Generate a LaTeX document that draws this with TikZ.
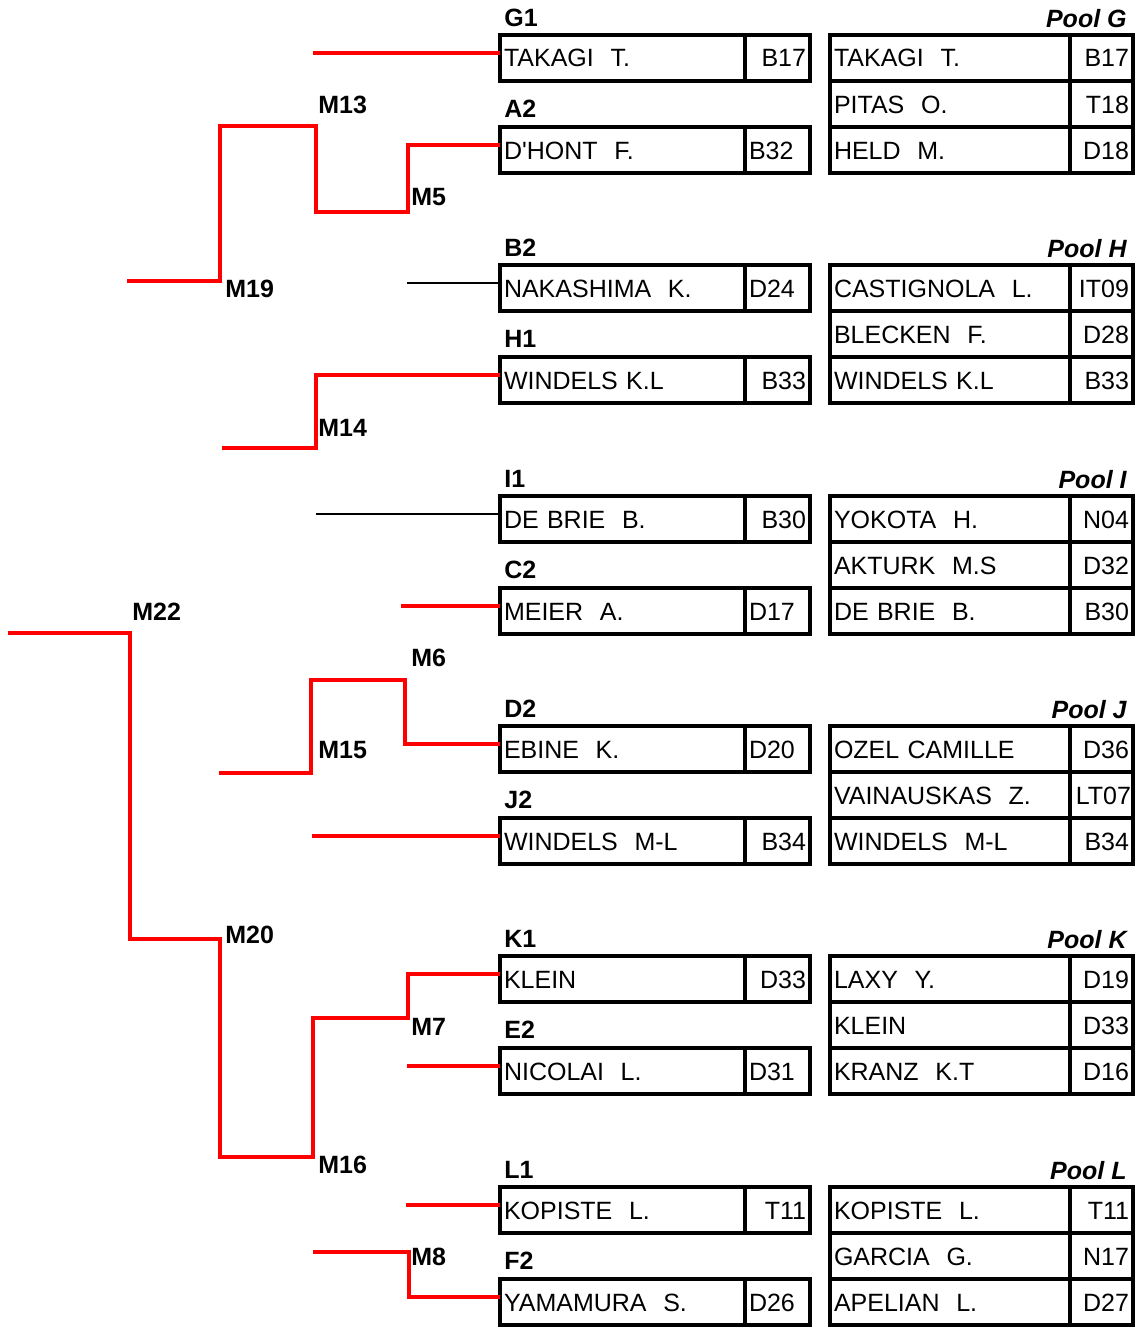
\documentclass[tikz,border=0pt]{standalone}
\usepackage{fontspec}
\setmainfont{Liberation Sans}[Ligatures=TeXOff]
\usepackage{tikz,xcolor}
\usetikzlibrary{calc}

\tikzset{
  cell/.style={draw, line width=2pt, outer sep=0pt, inner xsep=2pt, inner ysep=0pt,
    minimum height=23pt, text height=9pt, text depth=0pt, anchor=north west,
    font=\fontsize{12.5pt}{14pt}\selectfont},
  namecell/.style={cell, text width=118.5pt, align=left},
  codecell/.style={cell, text width=28.5pt, align=right},
  poolname/.style={cell, text width=116pt, align=left},
  poolcode/.style={cell, text width=27.5pt, align=right},
  seed/.style={anchor=west, inner sep=0pt, text depth=0pt,
    font=\fontsize{12.5pt}{14pt}\selectfont\bfseries},
  pooltitle/.style={anchor=east, inner sep=0pt, text depth=0pt,
    font=\fontsize{12.5pt}{14pt}\selectfont\bfseries\itshape},
  match/.style={anchor=west, inner sep=0pt, text depth=0pt,
    font=\fontsize{12.5pt}{14pt}\selectfont\bfseries},
  win/.style={red, line width=2.4pt},
  bye/.style={black, line width=1pt}
}

\begin{document}
\begin{tikzpicture}[x=0.5pt,y=-0.5pt]
  \useasboundingbox (0,0) rectangle (1136,1327);

  % Pool G
  \begin{scope}[shift={(0,35)}]
    \node[seed] (lg1) at (504,-17) {G1};
    \node[pooltitle] (tg) at (1127,-17) {Pool G};
    \node[namecell] (g1) at (500,0) {TAKAGI~~T.};
    \node[codecell] (g1c) at (g1.north east) {B17};
    \node[seed] (la2) at (504,74) {A2};
    \node[namecell] (a2) at (500,92) {D'HONT~~F.};
    \node[codecell,align=left] (a2c) at (a2.north east) {B32};
    \node[poolname] (pg1) at (830,0) {TAKAGI~~T.};
    \node[poolcode] (pg1c) at (pg1.north east) {B17};
    \node[poolname] (pg2) at (pg1.south west) {PITAS~~O.};
    \node[poolcode] (pg2c) at (pg2.north east) {T18};
    \node[poolname] (pg3) at (pg2.south west) {HELD~~M.};
    \node[poolcode] (pg3c) at (pg3.north east) {D18};
  \end{scope}

  % Pool H
  \begin{scope}[shift={(0,265)}]
    \node[seed] (lb2) at (504,-17) {B2};
    \node[pooltitle] (th) at (1127,-17) {Pool H};
    \node[namecell] (b2) at (500,0) {NAKASHIMA~~K.};
    \node[codecell,align=left] (b2c) at (b2.north east) {D24};
    \node[seed] (lh1) at (504,74) {H1};
    \node[namecell] (h1) at (500,92) {WINDELS K.L};
    \node[codecell] (h1c) at (h1.north east) {B33};
    \node[poolname] (ph1) at (830,0) {CASTIGNOLA~~L.};
    \node[poolcode] (ph1c) at (ph1.north east) {IT09};
    \node[poolname] (ph2) at (ph1.south west) {BLECKEN~~F.};
    \node[poolcode] (ph2c) at (ph2.north east) {D28};
    \node[poolname] (ph3) at (ph2.south west) {WINDELS K.L};
    \node[poolcode] (ph3c) at (ph3.north east) {B33};
  \end{scope}

  % Pool I
  \begin{scope}[shift={(0,496)}]
    \node[seed] (li1) at (504,-17) {I1};
    \node[pooltitle] (ti) at (1127,-17) {Pool I};
    \node[namecell] (i1) at (500,0) {DE BRIE~~B.};
    \node[codecell] (i1c) at (i1.north east) {B30};
    \node[seed] (lc2) at (504,74) {C2};
    \node[namecell] (c2) at (500,92) {MEIER~~A.};
    \node[codecell,align=left] (c2c) at (c2.north east) {D17};
    \node[poolname] (pi1) at (830,0) {YOKOTA~~H.};
    \node[poolcode] (pi1c) at (pi1.north east) {N04};
    \node[poolname] (pi2) at (pi1.south west) {AKTURK~~M.S};
    \node[poolcode] (pi2c) at (pi2.north east) {D32};
    \node[poolname] (pi3) at (pi2.south west) {DE BRIE~~B.};
    \node[poolcode] (pi3c) at (pi3.north east) {B30};
  \end{scope}

  % Pool J
  \begin{scope}[shift={(0,726)}]
    \node[seed] (ld2) at (504,-17) {D2};
    \node[pooltitle] (tj) at (1127,-17) {Pool J};
    \node[namecell] (d2) at (500,0) {EBINE~~K.};
    \node[codecell,align=left] (d2c) at (d2.north east) {D20};
    \node[seed] (lj2) at (504,74) {J2};
    \node[namecell] (j2) at (500,92) {WINDELS~~M-L};
    \node[codecell] (j2c) at (j2.north east) {B34};
    \node[poolname] (pj1) at (830,0) {OZEL CAMILLE};
    \node[poolcode] (pj1c) at (pj1.north east) {D36};
    \node[poolname] (pj2) at (pj1.south west) {VAINAUSKAS~~Z.};
    \node[poolcode,inner xsep=1pt,text width=29.5pt] (pj2c) at (pj2.north east) {LT07};
    \node[poolname] (pj3) at (pj2.south west) {WINDELS~~M-L};
    \node[poolcode] (pj3c) at (pj3.north east) {B34};
  \end{scope}

  % Pool K
  \begin{scope}[shift={(0,956)}]
    \node[seed] (lk1) at (504,-17) {K1};
    \node[pooltitle] (tk) at (1127,-17) {Pool K};
    \node[namecell] (k1) at (500,0) {KLEIN};
    \node[codecell] (k1c) at (k1.north east) {D33};
    \node[seed] (le2) at (504,74) {E2};
    \node[namecell] (e2) at (500,92) {NICOLAI~~L.};
    \node[codecell,align=left] (e2c) at (e2.north east) {D31};
    \node[poolname] (pk1) at (830,0) {LAXY~~Y.};
    \node[poolcode] (pk1c) at (pk1.north east) {D19};
    \node[poolname] (pk2) at (pk1.south west) {KLEIN};
    \node[poolcode] (pk2c) at (pk2.north east) {D33};
    \node[poolname] (pk3) at (pk2.south west) {KRANZ~~K.T};
    \node[poolcode] (pk3c) at (pk3.north east) {D16};
  \end{scope}

  % Pool L
  \begin{scope}[shift={(0,1187)}]
    \node[seed] (ll1) at (504,-17) {L1};
    \node[pooltitle] (tl) at (1127,-17) {Pool L};
    \node[namecell] (l1) at (500,0) {KOPISTE~~L.};
    \node[codecell] (l1c) at (l1.north east) {T11};
    \node[seed] (lf2) at (504,74) {F2};
    \node[namecell] (f2) at (500,92) {YAMAMURA~~S.};
    \node[codecell,align=left] (f2c) at (f2.north east) {D26};
    \node[poolname] (pl1) at (830,0) {KOPISTE~~L.};
    \node[poolcode] (pl1c) at (pl1.north east) {T11};
    \node[poolname] (pl2) at (pl1.south west) {GARCIA~~G.};
    \node[poolcode] (pl2c) at (pl2.north east) {N17};
    \node[poolname] (pl3) at (pl2.south west) {APELIAN~~L.};
    \node[poolcode] (pl3c) at (pl3.north east) {D27};
  \end{scope}

  % Bracket corners and loose ends
  \coordinate (m5) at (408,212);
  \coordinate (m13) at (316,126);
  \coordinate (m19) at (220,281);
  \coordinate (m14) at (316,448);
  \coordinate (m6) at (405,680);
  \coordinate (m15) at (311,773);
  \coordinate (m7) at (408,1018);
  \coordinate (m16) at (313,1157);
  \coordinate (m20) at (220,939);
  \coordinate (m22) at (130,633);
  \coordinate (m8) at (409,1252);
  \coordinate (g1end) at (313,53);
  \coordinate (m19end) at (127,281);
  \coordinate (b2end) at (407,283);
  \coordinate (m14end) at (222,448);
  \coordinate (i1end) at (316,514);
  \coordinate (c2end) at (401,606);
  \coordinate (m15end) at (219,773);
  \coordinate (j2end) at (312,836);
  \coordinate (m22end) at (8,633);
  \coordinate (e2end) at (407,1066);
  \coordinate (l1end) at (406,1205);
  \coordinate (m8end) at (313,1252);

  % Bracket lines
  \draw[win] ([yshift=2.5pt]g1.west) -- (g1end);
  \draw[win] ([yshift=2.5pt]a2.west) -| (m5) -| (m13) -| (m19) -- (m19end);
  \draw[bye] ([yshift=2.5pt]b2.west) -- (b2end);
  \draw[win] ([yshift=2.5pt]h1.west) -| (m14) -- (m14end);
  \draw[bye] ([yshift=2.5pt]i1.west) -- (i1end);
  \draw[win] ([yshift=2.5pt]c2.west) -- (c2end);
  \draw[win] ([yshift=2.5pt]d2.west) -| (m6) -| (m15) -- (m15end);
  \draw[win] ([yshift=2.5pt]j2.west) -- (j2end);
  \draw[win] ([yshift=2.5pt]k1.west) -| (m7) -| (m16) -| (m20) -| (m22) -- (m22end);
  \draw[win] ([yshift=2.5pt]e2.west) -- (e2end);
  \draw[win] ([yshift=2.5pt]l1.west) -- (l1end);
  \draw[win] ([yshift=2.5pt]f2.west) -| (m8) -- (m8end);

  % Match numbers
  \node[match] (lm13) at (318,105) {M13};
  \node[match] (lm5) at (411,197) {M5};
  \node[match] (lm19) at (225,289) {M19};
  \node[match] (lm14) at (318,428) {M14};
  \node[match] (lm22) at (132,612) {M22};
  \node[match] (lm6) at (411,658) {M6};
  \node[match] (lm15) at (318,750) {M15};
  \node[match] (lm20) at (225,935) {M20};
  \node[match] (lm7) at (411,1027) {M7};
  \node[match] (lm16) at (318,1165) {M16};
  \node[match] (lm8) at (411,1257) {M8};

\end{tikzpicture}
\end{document}
